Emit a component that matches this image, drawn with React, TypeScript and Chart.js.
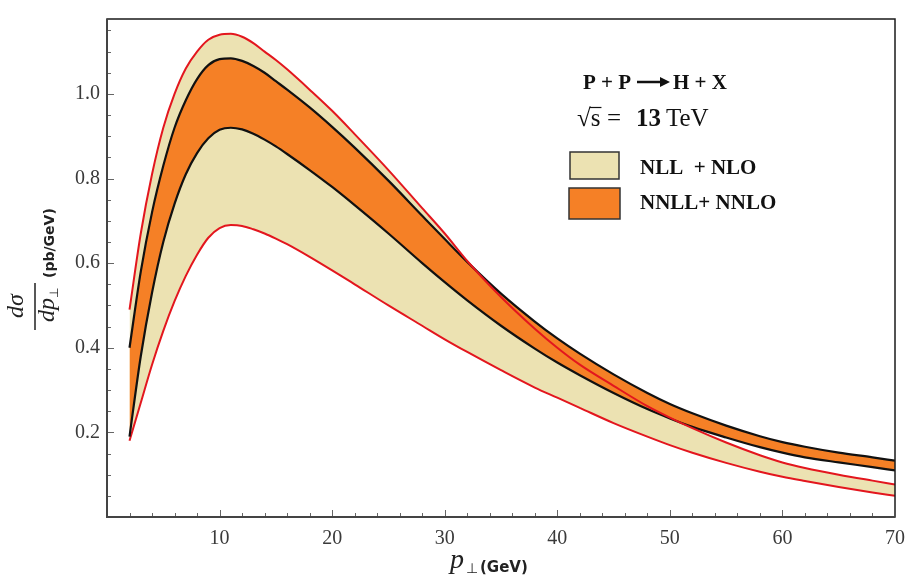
import { useEffect, useRef } from "react";
import { Chart, registerables } from "chart.js";

Chart.register(...registerables);

// transverse momentum p_perp (GeV)
const P_PERP = [2, 3, 4, 5, 6, 7, 8, 9, 10, 11, 12, 13, 14, 15, 16, 18, 20, 22, 25, 28, 30, 32, 35, 38, 40, 42, 45, 48, 50, 52, 55, 58, 60, 62, 65, 68, 70];

// NLL + NLO band (red edges)
const NLL_UPPER = [0.49, 0.67, 0.81, 0.92, 1.0, 1.06, 1.1, 1.128, 1.14, 1.142, 1.135, 1.12, 1.1, 1.08, 1.058, 1.01, 0.96, 0.905, 0.82, 0.73, 0.67, 0.605, 0.52, 0.445, 0.4, 0.36, 0.31, 0.262, 0.235, 0.21, 0.176, 0.146, 0.129, 0.116, 0.1, 0.086, 0.077];
const NLL_LOWER = [0.18, 0.27, 0.36, 0.44, 0.51, 0.57, 0.62, 0.66, 0.683, 0.69, 0.688, 0.68, 0.67, 0.658, 0.645, 0.615, 0.583, 0.55, 0.5, 0.452, 0.42, 0.39, 0.347, 0.306, 0.282, 0.258, 0.222, 0.19, 0.17, 0.152, 0.128, 0.107, 0.095, 0.085, 0.071, 0.058, 0.05];

// NNLL + NNLO band (black edges)
const NNLL_UPPER = [0.4, 0.58, 0.72, 0.83, 0.92, 0.985, 1.035, 1.068, 1.082, 1.084, 1.078, 1.066, 1.05, 1.03, 1.01, 0.968, 0.922, 0.873, 0.795, 0.712, 0.657, 0.603, 0.528, 0.462, 0.422, 0.386, 0.337, 0.293, 0.267, 0.245, 0.216, 0.191, 0.177, 0.166, 0.152, 0.141, 0.133];
const NNLL_LOWER = [0.19, 0.38, 0.53, 0.65, 0.74, 0.81, 0.86, 0.895, 0.915, 0.92, 0.916, 0.906, 0.892, 0.876, 0.858, 0.82, 0.78, 0.737, 0.67, 0.6, 0.555, 0.512, 0.452, 0.398, 0.365, 0.335, 0.293, 0.255, 0.233, 0.213, 0.188, 0.165, 0.152, 0.141, 0.129, 0.118, 0.11];

const X_TICKS = [10, 20, 30, 40, 50, 60, 70];
const Y_TICKS = [0.2, 0.4, 0.6, 0.8, 1.0];
const LEGEND_LABELS = ["NLL  + NLO", "NNLL+ NNLO"];

const BEIGE = "#ECE2B2";
const ORANGE = "#F58026";
const RED = "#E3161E";
const BLACK = "#111111";
const SERIF = '"Liberation Serif", "Times New Roman", serif';

const pts = (ys: number[]) => P_PERP.map((x, i) => ({ x, y: ys[i] }));

const decorPlugin = {
  id: "decor",
  afterDatasetsDraw(chart: any) {
    const { ctx, chartArea: a, scales } = chart;
    const xs = scales.x;
    const ys = scales.y;
    ctx.save();
    // inward ticks
    ctx.strokeStyle = "#666";
    ctx.lineWidth = 1;
    for (let v = 2; v < 70; v += 2) {
      const px = Math.round(xs.getPixelForValue(v)) + 0.5;
      const len = v % 10 === 0 ? 7 : 4;
      ctx.beginPath();
      ctx.moveTo(px, a.bottom);
      ctx.lineTo(px, a.bottom - len);
      ctx.stroke();
    }
    for (let i = 1; i * 0.05 < ys.max; i++) {
      const py = Math.round(ys.getPixelForValue(i * 0.05)) + 0.5;
      const len = i % 4 === 0 ? 7 : 4;
      ctx.beginPath();
      ctx.moveTo(a.left, py);
      ctx.lineTo(a.left + len, py);
      ctx.stroke();
    }
    // frame
    ctx.strokeStyle = "#1a1a1a";
    ctx.lineWidth = 1.5;
    ctx.strokeRect(a.left, a.top, a.right - a.left, a.bottom - a.top);
    ctx.strokeStyle = "#444";
    ctx.lineWidth = 2;
    ctx.beginPath();
    ctx.moveTo(a.left, a.top);
    ctx.lineTo(a.left, a.bottom);
    ctx.lineTo(a.right, a.bottom);
    ctx.stroke();
    ctx.restore();
  },
  afterDraw(chart: any) {
    const { ctx } = chart;
    ctx.save();
    ctx.fillStyle = BLACK;
    ctx.textAlign = "left";
    ctx.textBaseline = "alphabetic";

    // process
    ctx.font = `bold 21px ${SERIF}`;
    ctx.fillText("P + P", 583, 89);
    ctx.strokeStyle = BLACK;
    ctx.lineWidth = 2.5;
    ctx.beginPath();
    ctx.moveTo(637, 82);
    ctx.lineTo(662, 82);
    ctx.stroke();
    ctx.beginPath();
    ctx.moveTo(670, 82);
    ctx.lineTo(660, 77);
    ctx.lineTo(660, 87);
    ctx.closePath();
    ctx.fill();
    ctx.fillText("H + X", 673, 89);

    // sqrt(s)
    ctx.font = `25px ${SERIF}`;
    ctx.fillText("\u221A", 577, 126);
    const rw = ctx.measureText("\u221A").width;
    ctx.fillText("s", 577 + rw, 126);
    const sw = ctx.measureText("s").width;
    ctx.lineWidth = 1.2;
    ctx.beginPath();
    ctx.moveTo(577 + rw - 1, 107.5);
    ctx.lineTo(577 + rw + sw + 1, 107.5);
    ctx.stroke();
    ctx.fillText("=", 607, 126);
    ctx.font = `bold 25px ${SERIF}`;
    ctx.fillText("13", 636, 126);
    ctx.font = `25px ${SERIF}`;
    ctx.fillText("TeV", 666, 126);

    // legend
    ctx.strokeStyle = "#333";
    ctx.lineWidth = 1.5;
    ctx.fillStyle = BEIGE;
    ctx.fillRect(570, 152, 49, 27);
    ctx.strokeRect(570, 152, 49, 27);
    ctx.fillStyle = ORANGE;
    ctx.fillRect(569, 188, 51, 31);
    ctx.strokeRect(569, 188, 51, 31);
    ctx.fillStyle = BLACK;
    ctx.font = `bold 21px ${SERIF}`;
    ctx.fillText(LEGEND_LABELS[0], 640, 174);
    ctx.fillText(LEGEND_LABELS[1], 640, 209);

    // x title
    ctx.fillStyle = "#222";
    ctx.font = `italic 28px ${SERIF}`;
    ctx.fillText("p", 450, 568);
    ctx.font = `14px "DejaVu Sans"`;
    ctx.fillText("\u22A5", 466, 573);
    ctx.font = `bold 15px "DejaVu Sans"`;
    ctx.fillText("(GeV)", 480, 572);

    // y title (rotated)
    ctx.save();
    ctx.translate(35, 306);
    ctx.rotate(-Math.PI / 2);
    ctx.textAlign = "center";
    ctx.font = `italic 24px ${SERIF}`;
    ctx.fillText("d\u03C3", 0, -12);
    ctx.fillRect(-24, -0.75, 47, 1.5);
    ctx.fillText("dp", -4, 19);
    ctx.textAlign = "left";
    ctx.font = `12px "DejaVu Sans"`;
    ctx.fillText("\u22A5", 8, 23);
    ctx.font = `bold 14px "DejaVu Sans"`;
    ctx.fillText("(pb/GeV)", 28, 19);
    ctx.restore();

    ctx.restore();
  },
};

export default function App() {
  const ref = useRef<HTMLCanvasElement>(null);

  useEffect(() => {
    document.body.style.margin = "0";
    const canvas = ref.current;
    if (!canvas) return;
    const line = (data: number[], color: string, width: number, fill: any, bg?: string) => ({
      data: pts(data),
      borderColor: color,
      borderWidth: width,
      pointRadius: 0,
      cubicInterpolationMode: "monotone" as const,
      fill,
      backgroundColor: bg ?? "transparent",
    });
    const chart = new Chart(canvas, {
      type: "line",
      data: {
        datasets: [
          { label: "NLL + NLO upper", ...line(NLL_UPPER, RED, 2, false) },
          { label: "NNLL + NNLO upper", ...line(NNLL_UPPER, BLACK, 2.2, 2, ORANGE) },
          { label: "NNLL + NNLO lower", ...line(NNLL_LOWER, BLACK, 2.2, false) },
          { label: "NLL + NLO lower", ...line(NLL_LOWER, RED, 2, 0, BEIGE) },
        ],
      },
      options: {
        responsive: false,
        animation: false,
        layout: { padding: { top: 13, right: 18, left: 0, bottom: 0 } },
        plugins: {
          legend: { display: false },
          tooltip: { enabled: false },
          filler: { propagate: false, drawTime: "beforeDatasetsDraw" },
        },
        scales: {
          x: {
            type: "linear",
            min: 0,
            max: 70,
            grid: { display: false, drawTicks: false },
            border: { display: false },
            afterBuildTicks: (s: any) => {
              s.ticks = X_TICKS.map((v) => ({ value: v }));
            },
            afterFit: (s: any) => {
              s.height = 58;
            },
            ticks: {
              padding: 10,
              color: "#3a3a3a",
              font: { family: SERIF, size: 20 },
              maxRotation: 0,
              callback: (v: any) => String(v),
            },
          },
          y: {
            type: "linear",
            min: 0,
            max: 1.177,
            grid: { display: false, drawTicks: false },
            border: { display: false },
            afterBuildTicks: (s: any) => {
              s.ticks = Y_TICKS.map((v) => ({ value: v }));
            },
            afterFit: (s: any) => {
              s.width = 107;
            },
            ticks: {
              padding: 7,
              color: "#3a3a3a",
              font: { family: SERIF, size: 20 },
              callback: (v: any) => Number(v).toFixed(1),
            },
          },
        },
      },
      plugins: [decorPlugin],
    });
    return () => chart.destroy();
  }, []);

  return (
    <div style={{ position: "relative", width: 915, height: 575, background: "#fff" }}>
      <canvas ref={ref} width={915} height={575} style={{ display: "block" }} />
    </div>
  );
}
